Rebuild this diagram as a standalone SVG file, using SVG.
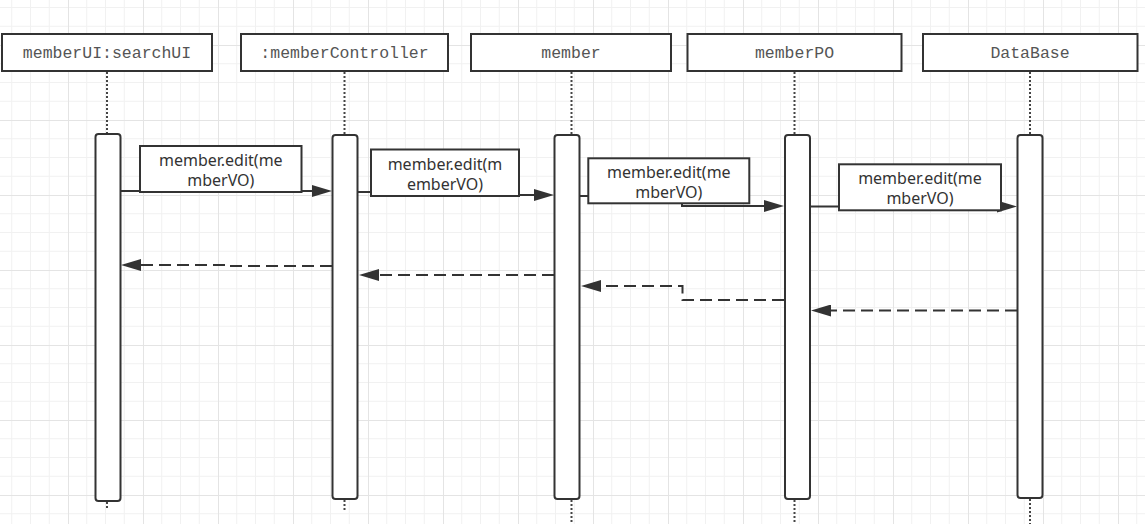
<svg xmlns="http://www.w3.org/2000/svg" width="1145" height="524" viewBox="0 0 1145 524">
  <defs>
    <pattern id="grid" patternUnits="userSpaceOnUse" x="68" y="45" width="75" height="75">
      <g stroke="#f1f1f1" stroke-width="1">
        <line x1="18.75" y1="0" x2="18.75" y2="75"/>
        <line x1="37.5" y1="0" x2="37.5" y2="75"/>
        <line x1="56.25" y1="0" x2="56.25" y2="75"/>
        <line x1="0" y1="18.75" x2="75" y2="18.75"/>
        <line x1="0" y1="37.5" x2="75" y2="37.5"/>
        <line x1="0" y1="56.25" x2="75" y2="56.25"/>
      </g>
      <g stroke="#e4e4e4" stroke-width="1">
        <line x1="0.5" y1="0" x2="0.5" y2="75"/>
        <line x1="0" y1="0.5" x2="75" y2="0.5"/>
      </g>
    </pattern>
    <marker id="arrow" markerUnits="userSpaceOnUse" viewBox="0 0 20 12" markerWidth="20" markerHeight="12" refX="10" refY="6" orient="auto">
      <path d="M0,0 L20,6 L0,12 z" fill="#333"/>
    </marker>
    <style>
      .head { fill: #fff; stroke: #333; stroke-width: 2; }
      .headtxt { font-family: "Liberation Mono", monospace; font-size: 16.5px; fill: #555; text-anchor: middle; dominant-baseline: central; }
      .life { stroke: #444; stroke-width: 2; stroke-dasharray: 2 2; fill: none; }
      .bar { fill: #fff; stroke: #333; stroke-width: 2; }
      .msg { fill: none; stroke: #333; stroke-width: 2; marker-end: url(#arrow); }
      .ret { fill: none; stroke: #333; stroke-width: 2; stroke-dasharray: 12 6; marker-end: url(#arrow); }
      .lbl { fill: #fff; stroke: #333; stroke-width: 2; }
      .lbltxt { font-family: "Noto Sans", "Liberation Sans", sans-serif; font-size: 16px; fill: #333; text-anchor: middle; }
    </style>
  </defs>

  <rect x="0" y="0" width="1145" height="524" fill="#fff"/>
  <rect x="0" y="0" width="1145" height="524" fill="url(#grid)"/>

  <g id="lifeline-searchUI">
    <line class="life" x1="107" y1="72" x2="107" y2="134"/>
    <line class="life" x1="107" y1="502" x2="107" y2="510"/>
    <rect class="head" x="2" y="34" width="210" height="37"/>
    <text class="headtxt" x="107" y="53">memberUI:searchUI</text>
    <rect class="bar" x="95.5" y="134" width="25" height="367" rx="3"/>
  </g>

  <g id="lifeline-memberController">
    <line class="life" x1="344.5" y1="72" x2="344.5" y2="135"/>
    <line class="life" x1="344.5" y1="500" x2="344.5" y2="510"/>
    <rect class="head" x="241" y="34" width="207" height="37"/>
    <text class="headtxt" x="344.5" y="53">:memberController</text>
    <rect class="bar" x="332.5" y="135" width="25" height="364" rx="3"/>
  </g>

  <g id="lifeline-member">
    <line class="life" x1="571.5" y1="72" x2="571.5" y2="135"/>
    <line class="life" x1="571.5" y1="500" x2="571.5" y2="524"/>
    <rect class="head" x="471" y="34" width="200" height="37"/>
    <text class="headtxt" x="571" y="53">member</text>
    <rect class="bar" x="554.5" y="135" width="25" height="364" rx="3"/>
  </g>

  <g id="lifeline-memberPO">
    <line class="life" x1="794.5" y1="72" x2="794.5" y2="135"/>
    <line class="life" x1="794.5" y1="500" x2="794.5" y2="524"/>
    <rect class="head" x="687.5" y="34" width="214" height="37"/>
    <text class="headtxt" x="794.5" y="53">memberPO</text>
    <rect class="bar" x="785" y="135" width="25" height="364" rx="3"/>
  </g>

  <g id="lifeline-DataBase">
    <line class="life" x1="1030" y1="72" x2="1030" y2="135"/>
    <line class="life" x1="1030" y1="499" x2="1030" y2="524"/>
    <rect class="head" x="923" y="34" width="214.5" height="37"/>
    <text class="headtxt" x="1030" y="53">DataBase</text>
    <rect class="bar" x="1017.5" y="135" width="25" height="363" rx="3"/>
  </g>

  <g id="connectors">
    <polyline class="msg" points="121,191 322,191"/>
    <polyline class="msg" points="358,192 445,192 445,195 544,195"/>
    <polyline class="msg" points="580,196 682,196 682,206 774,206"/>
    <polyline class="msg" points="810,206.5 1007,206.5"/>

    <polyline class="ret" points="332,266 227,266 227,265 131,265"/>
    <polyline class="ret" points="554,275 369,275"/>
    <polyline class="ret" points="784,300 682.5,300 682.5,286 591,286"/>
    <polyline class="ret" points="1017,310.5 821,310.5"/>
  </g>

  <g id="label-1">
    <rect class="lbl" x="140" y="146" width="161.5" height="46"/>
    <text class="lbltxt" x="220.8" y="166">member.edit(me</text>
    <text class="lbltxt" x="220.8" y="186">mberVO)</text>
  </g>
  <g id="label-2">
    <rect class="lbl" x="371" y="149.5" width="148" height="46.5"/>
    <text class="lbltxt" x="445" y="169.5">member.edit(m</text>
    <text class="lbltxt" x="445" y="189.5">emberVO)</text>
  </g>
  <g id="label-3">
    <rect class="lbl" x="588.3" y="158.3" width="161" height="45"/>
    <text class="lbltxt" x="668.8" y="178.3">member.edit(me</text>
    <text class="lbltxt" x="668.8" y="198.3">mberVO)</text>
  </g>
  <g id="label-4">
    <rect class="lbl" x="839" y="164.3" width="162" height="46"/>
    <text class="lbltxt" x="920" y="184.3">member.edit(me</text>
    <text class="lbltxt" x="920" y="204.3">mberVO)</text>
  </g>
</svg>
